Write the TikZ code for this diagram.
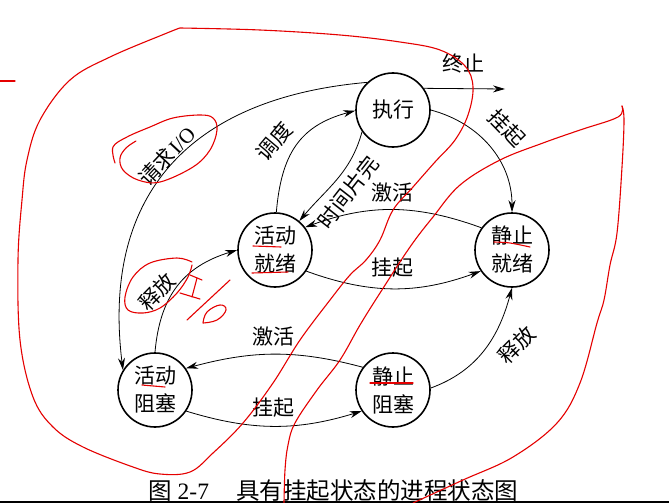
\documentclass[tikz,border=0pt]{standalone}
\usepackage{fontspec}
\setmainfont{Liberation Serif}
\newfontfamily\cjk{Noto Sans CJK SC}
\usetikzlibrary{arrows.meta}
\begin{document}
\begin{tikzpicture}[x=1pt,y=1pt,
  st/.style={circle,draw,line width=1.6pt,minimum size=74pt,inner sep=0pt,align=center,font=\cjk\fontsize{21}{28}\selectfont},
  arr/.style={line width=0.8pt,-{Stealth[length=12pt,width=7pt]}},
  lbl/.style={font=\cjk\fontsize{21}{21}\selectfont,inner sep=0pt},
  ink/.style={draw=red!90!black,line width=1.1pt,line cap=round,line join=round},
]
\fill[white] (0,0) rectangle (669,-503);
\useasboundingbox (0,0) rectangle (669,-503);

% states
\node[st] (E)  at (393,-110) {执行};
\node[st] (AR) at (275,-250) {活动\\就绪};
\node[st] (SR) at (512,-250) {静止\\就绪};
\node[st] (AB) at (155,-390) {活动\\阻塞};
\node[st] (SB) at (393,-390) {静止\\阻塞};
\coordinate (T) at (505,-89);

% transitions
\draw[arr] (E.35) -- (T);
\draw[arr] (E.0) to[out=-15,in=90] (SR.90);
\draw[arr] (AR.88) to[out=85,in=195,looseness=1.15] (E.181);
\draw[arr] (E.215) to[out=255,in=50] (AR.50);
\draw[arr] (SR.144) to[out=160,in=20] (AR.37);
\draw[arr] (AR.-34) to[out=-20,in=200] (SR.214);
\draw[arr] (E.133) to[out=185,in=97,looseness=1.2] (AB.148);
\draw[arr] (AB.90) to[out=85,in=197,looseness=1.1] (AR.180);
\draw[arr] (SB.143) to[out=165,in=15] (AB.35);
\draw[arr] (AB.-34) to[out=-17,in=197] (SB.214);
\draw[arr] (SB.3) to[out=20,in=255] (SR.270);

% labels
\node[lbl] (l1) at (463,-63) {终止};
\node[lbl,rotate=-46] (l2) at (507,-128) {挂起};
\node[lbl,rotate=50] (l3) at (274,-141) {调度};
\node[lbl,rotate=52] (l4) at (348,-192) {时间片完};
\node[lbl] (l5) at (392,-193) {激活};
\node[lbl] (l6) at (392,-268) {挂起};
\node[lbl,rotate=47] (l7) at (167,-156) {请求\hspace{1pt}\rmfamily I/O};
\node[lbl,rotate=46] (l8) at (157,-292) {释放};
\node[lbl] (l9) at (273,-337) {激活};
\node[lbl] (l10) at (273,-408) {挂起};
\node[lbl,rotate=45] (l11) at (517,-345) {释放};

% caption
\node[anchor=west,inner sep=0pt,font=\fontsize{23.5}{23.5}\selectfont] (cap) at (148,-491)
  {{\cjk 图}\hspace{6pt}2-7\hspace{27pt}{\cjk 具有挂起状态的进程状态图}};
\draw[line width=2pt] (0,-502) -- (669,-502);

% red handwritten annotations
\draw[ink] plot[smooth,tension=0.6] coordinates {(180,-28) (260,-30) (340,-35) (400,-42) (440,-50) (465,-66) (473,-87) (468,-115) (455,-140) (435,-162) (413,-187) (393,-210) (380,-240) (366,-260) (350,-275) (330,-300) (300,-340) (273,-383) (243,-423) (213,-453) (190,-472) (160,-474) (133,-467) (83,-447) (53,-427) (33,-397) (20,-340) (18,-260) (22,-200) (27,-160) (40,-120) (70,-80) (110,-57) (167,-33) (180,-28)};
\draw[ink] plot[smooth,tension=0.6] coordinates {(284,-503) (285,-470) (288,-445) (295,-423) (317,-390) (340,-360) (360,-325) (380,-293) (410,-247) (433,-217) (460,-185) (500,-160) (543,-143) (580,-130) (618,-117) (622,-106)};
\draw[ink] plot[smooth,tension=0.6] coordinates {(622,-106) (624,-120) (622,-167) (617,-233) (610,-265) (604,-300) (597,-323) (580,-383) (557,-423) (513,-457) (463,-480) (413,-503)};
\draw[ink] (0,-81) -- (15,-81);
\draw[ink] plot[smooth,tension=0.6] coordinates {(115,-163) (113,-147) (127,-137) (150,-127) (173,-118) (200,-115) (213,-118) (217,-130) (210,-150) (193,-167) (160,-182) (138,-180) (123,-170) (120,-158) (126,-148) (136,-141)};
\draw[ink] plot[smooth,tension=0.6] coordinates {(192,-262) (177,-258) (150,-263) (133,-277) (125,-297) (128,-310) (143,-313) (160,-308) (177,-293) (188,-277) (192,-265)};
\draw[ink] (190,-275) -- (202,-280);
\draw[ink] (197,-278) -- (192,-297);
\draw[ink] (180,-293) -- (200,-299);
\draw[ink] (230,-280) -- (187,-320);
\draw[ink] plot[smooth,tension=0.7] coordinates {(203,-323) (207,-312) (220,-305) (226,-310) (217,-320) (203,-323)};
\draw[ink] (253,-246) -- (281,-247);
\draw[ink] (252,-273) -- (288,-272);
\draw[ink] plot[smooth] coordinates {(494,-242) (510,-243) (530,-247)};
\draw[ink] (370,-383) -- (413,-383);
\draw[ink] (142,-385) -- (165,-387);
\end{tikzpicture}
\end{document}
